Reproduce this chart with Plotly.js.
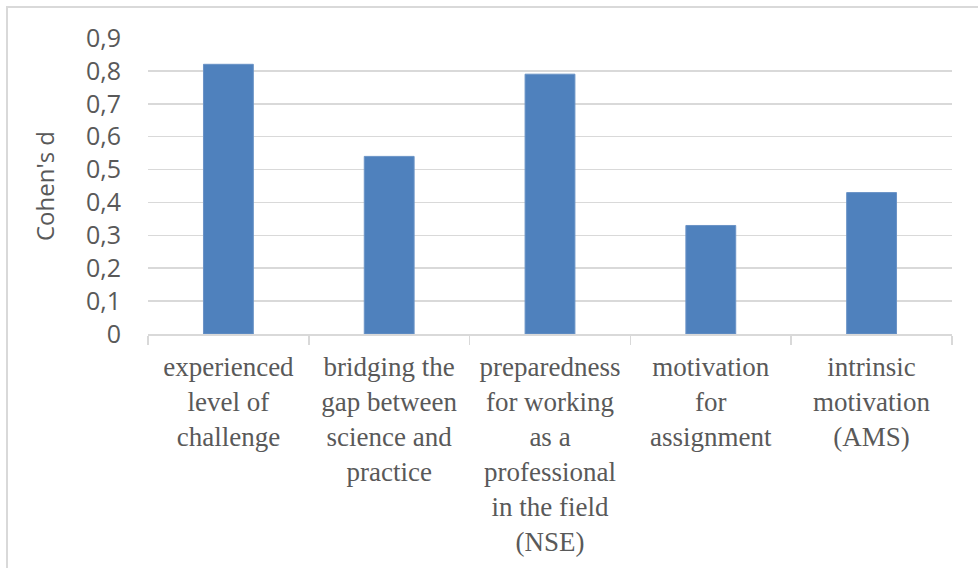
<!DOCTYPE html>
<html>
<head>
<meta charset="utf-8">
<script src="https://cdn.plot.ly/plotly-3.0.1.min.js"></script>
<style>
  html, body { margin: 0; padding: 0; background: #ffffff; }
  #wrap { position: relative; width: 978px; height: 568px; overflow: hidden; }
  #chart { position: absolute; left: 0; top: 0; width: 978px; height: 568px; }
  #frame { position: absolute; left: 6px; top: 6px; width: 990px; height: 600px;
           border-left: 2px solid #d9d9d9; border-top: 2px solid #d9d9d9; pointer-events: none; }
</style>
</head>
<body>
<div id="wrap">
  <div id="chart"></div>
  <div id="frame"></div>
</div>
<script>
const categories = [
  "experienced level of challenge",
  "bridging the gap between science and practice",
  "preparedness for working as a professional in the field (NSE)",
  "motivation for assignment",
  "intrinsic motivation (AMS)"
];
const tickLabels = [
  "experienced<br>level of<br>challenge",
  "bridging the<br>gap between<br>science and<br>practice",
  "preparedness<br>for working<br>as a<br>professional<br>in the field<br>(NSE)",
  "motivation<br>for<br>assignment",
  "intrinsic<br>motivation<br>(AMS)"
];
const cohensD = [0.82, 0.54, 0.79, 0.33, 0.43];
const yTitle = "Cohen's d";

const trace = {
  type: "bar",
  x: categories,
  y: cohensD,
  marker: { color: "#4f81bd", line: { color: "#6a93c6", width: 1 } },
  hoverinfo: "skip"
};

const layout = {
  width: 978,
  height: 568,
  margin: { l: 148, r: 26, t: 38, b: 234 },
  paper_bgcolor: "#ffffff",
  plot_bgcolor: "#ffffff",
  separators: ", ",
  bargap: 0.69,
  showlegend: false,
  xaxis: {
    type: "category",
    tickmode: "array",
    tickvals: categories,
    ticktext: tickLabels,
    tickson: "boundaries",
    ticks: "outside",
    ticklen: 9,
    tickwidth: 1.5,
    tickcolor: "#d9d9d9",
    showline: true,
    linecolor: "#d9d9d9",
    linewidth: 1.5,
    showgrid: false,
    zeroline: false,
    tickangle: 0,
    ticklabelstandoff: 8,
    tickfont: { family: "Liberation Serif, Times New Roman, serif", size: 27, color: "#595959" }
  },
  yaxis: {
    range: [0, 0.9],
    dtick: 0.1,
    tick0: 0,
    showline: false,
    zeroline: false,
    showgrid: true,
    gridcolor: "#d9d9d9",
    gridwidth: 1.5,
    ticks: "",
    ticklabelstandoff: 26,
    tickfont: { family: "Open Sans, Noto Sans, sans-serif", size: 25, color: "#595959" },
    title: {
      text: yTitle,
      standoff: 24,
      font: { family: "Open Sans, Noto Sans, sans-serif", size: 24, color: "#595959" }
    }
  }
};

Plotly.newPlot("chart", [trace], layout, { staticPlot: true, displayModeBar: false });
</script>
</body>
</html>
